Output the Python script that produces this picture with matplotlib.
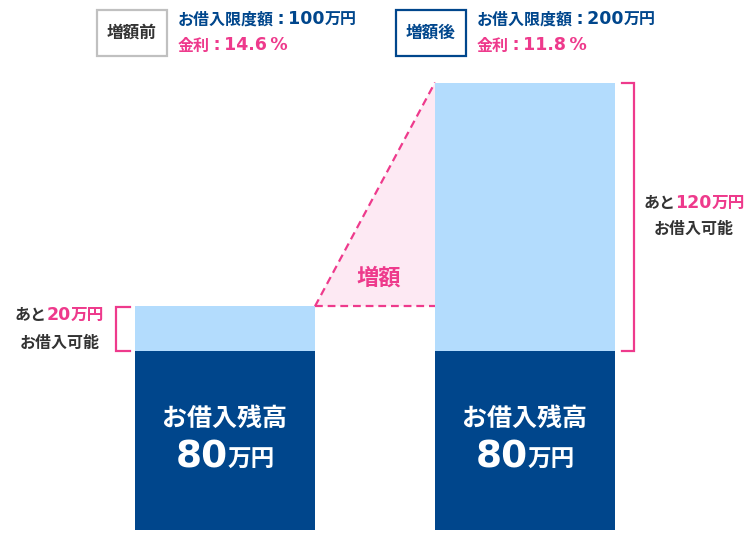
import numpy as np
import matplotlib.pyplot as plt
from matplotlib.offsetbox import TextArea, HPacker, AnnotationBbox
from matplotlib.patches import Rectangle, Polygon

plt.rcParams['font.family'] = ['Noto Sans CJK JP', 'DejaVu Sans']

# data (万円, %)
categories = ['増額前', '増額後']
limits = [100, 200]
balance = [80, 80]
rates = [14.6, 11.8]
available = [l - b for l, b in zip(limits, balance)]

NAVY = '#00468c'
LIGHT = '#b3dcfd'
PINK = '#ee3a8c'
PINK_FILL = '#fde9f3'
DARK = '#333333'
JP = ['Noto Sans CJK JP', 'DejaVu Sans']
NUM = ['DejaVu Sans']
COLON = '\u2009:\u2009'

fig = plt.figure(figsize=(7.5, 5.4), dpi=100)

# main axes: x in pixels, y in 万円 (0 at y=530px, 2.2375 px per unit)
px = 2.2375
ax = fig.add_axes([0, 0, 1, 1])
ax.set_xlim(0, 750)
ax.set_ylim(-10 / px, 530 / px)
ax.axis('off')

# overlay axes in plain pixel coordinates for the labels
ov = fig.add_axes([0, 0, 1, 1])
ov.set_xlim(0, 750)
ov.set_ylim(540, 0)
ov.axis('off')
ov.patch.set_visible(False)

bar_x = [225, 525]
width = 180
ax.bar(bar_x, balance, width, color=NAVY, zorder=3)
ax.bar(bar_x, available, width, bottom=balance, color=LIGHT, zorder=3)

# 増額 triangle between the two bar tops
x0 = bar_x[0] + width / 2
x1 = bar_x[1] - width / 2
ax.add_patch(Polygon([(x0, limits[0]), (x1, limits[1]), (x1, limits[0])],
                     closed=True, facecolor=PINK_FILL, edgecolor='none', zorder=1))
ax.plot([x0, x1], [limits[0], limits[1]], color=PINK, lw=1.6, ls=(0, (3.5, 2.2)), zorder=2)
ax.plot([x0, x1], [limits[0], limits[0]], color=PINK, lw=1.6, ls=(0, (3.5, 2.2)), zorder=2)
ov.text(379, 278, '増額', color=PINK, fontsize=16, fontweight='bold',
        ha='center', va='center')

# brackets for the available amount
ax.plot([130, 116, 116, 130], [limits[0] - 0.4, limits[0] - 0.4, balance[0], balance[0]],
        color=PINK, lw=1.6, solid_joinstyle='miter')
ax.plot([622, 634, 634, 622], [limits[1] - 0.4, limits[1] - 0.4, balance[1], balance[1]],
        color=PINK, lw=1.6, solid_joinstyle='miter')


def rich(x, y, parts, ha=0.5):
    areas = [TextArea(s, textprops=dict(color=c, fontsize=fs, fontweight='bold', family=fam))
             for s, c, fs, fam in parts]
    box = HPacker(children=areas, align='baseline', pad=0, sep=0)
    ab = AnnotationBbox(box, (x, y), xycoords=ov.transData, box_alignment=(ha, 0.5),
                        frameon=False, pad=0)
    ov.add_artist(ab)


# bar labels
for bx, b in zip(bar_x, balance):
    ov.text(bx, 419, 'お借入残高', color='white', fontsize=18, fontweight='bold',
            ha='center', va='center')
    rich(bx, 457, [(f'{b}', 'white', 27, NUM), ('万円', 'white', 17, JP)])

# available amount labels
rich(59, 315, [('あと', DARK, 11.5, JP), (f'{available[0]}', PINK, 12.5, NUM), ('万円', PINK, 12, JP)])
ov.text(60, 343, 'お借入可能', color=DARK, fontsize=11.5, fontweight='bold',
        ha='center', va='center')
rich(694, 203, [('あと', DARK, 11.5, JP), (f'{available[1]}', PINK, 12.5, NUM), ('万円', PINK, 12, JP)])
ov.text(694, 229, 'お借入可能', color=DARK, fontsize=11.5, fontweight='bold',
        ha='center', va='center')

# header
box_x = [97, 396]
box_edge = ['#c0c0c0', NAVY]
box_text = [DARK, NAVY]
for bx, cat, ec, tc, lim, r in zip(box_x, categories, box_edge, box_text, limits, rates):
    ov.add_patch(Rectangle((bx, 10), 70, 46, facecolor='white', edgecolor=ec, lw=1.6))
    ov.text(bx + 35, 33, cat, color=tc, fontsize=12, fontweight='bold',
            ha='center', va='center')
    rich(bx + 81, 19.5, [('お借入限度額', NAVY, 11.5, JP), (COLON + f'{lim}', NAVY, 12.5, NUM),
                          ('万円', NAVY, 11.5, JP)], ha=0)
    rich(bx + 81, 45.5, [('金利', PINK, 11.5, JP), (COLON + f'{r}\u2009%', PINK, 12.5, NUM)], ha=0)

fig.savefig('out.png', dpi=100)
